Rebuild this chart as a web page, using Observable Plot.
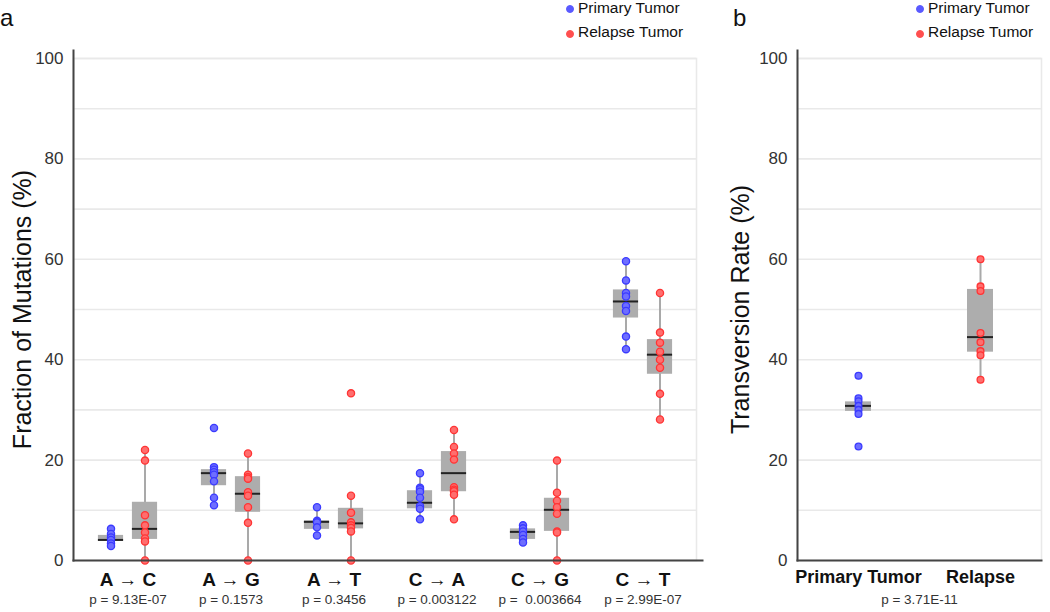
<!DOCTYPE html>
<html>
<head>
<meta charset="utf-8">
<script src="https://cdn.jsdelivr.net/npm/d3@7"></script>
<script src="https://cdn.jsdelivr.net/npm/@observablehq/plot@0.6"></script>
<style>
  html, body { margin: 0; padding: 0; background: #fff; }
  #wrap { position: relative; width: 1050px; height: 612px; overflow: hidden; font-family: "Liberation Sans", Arial, sans-serif; color: #111; }
  .abs { position: absolute; white-space: nowrap; }
  .panel-label { font-size: 24px; line-height: 24px; }
  .leg-text { font-size: 15.5px; line-height: 16px; color: #111; }
  .leg-dot { width: 6px; height: 6px; border-radius: 50%; }
</style>
</head>
<body>
<div id="wrap"></div>
<script>
// ---------- data ----------
const mutationTypes = ["A → C", "A → G", "A → T", "C → A", "C → G", "C → T"];
const pValuesA = ["p = 9.13E-07", "p = 0.1573", "p = 0.3456", "p = 0.003122", "p =  0.003664", "p = 2.99E-07"];
const tumorGroups = ["Primary Tumor", "Relapse Tumor"];
const panelBCategories = ["Primary Tumor", "Relapse"];
const pValueB = "p = 3.71E-11";
const yLabelA = "Fraction of Mutations (%)";
const yLabelB = "Transversion Rate (%)";
const yTicks = [0, 20, 40, 60, 80, 100];
const gridValues = [10, 20, 30, 40, 50, 60, 70, 80, 90, 100];

// individual samples, fraction of mutations (%) - primary tumors
const primaryAC = [6.3, 5.3, 4.6, 4.1, 3.4, 2.9];
const primaryAG = [26.4, 18.6, 18.1, 17.6, 17.1, 15.8, 12.5, 11.0];
const primaryAT = [10.6, 7.9, 7.6, 6.6, 5.0];
const primaryCA = [17.4, 14.5, 14.2, 13.7, 12.5, 10.8, 10.3, 8.2];
const primaryCG = [7.0, 6.4, 5.8, 5.1, 4.3, 3.6];
const primaryCT = [59.6, 55.8, 53.3, 52.6, 50.7, 49.7, 44.6, 42.1];
// relapse tumors
const relapseAC = [22.0, 19.9, 9.0, 7.0, 5.6, 4.4, 3.8, 0];
const relapseAG = [21.3, 17.1, 16.6, 16.3, 13.6, 12.9, 10.6, 7.5, 0];
const relapseAT = [33.3, 12.9, 9.5, 7.6, 7.0, 6.5, 5.8, 0];
const relapseCA = [26.0, 22.6, 21.3, 20.1, 14.6, 14.1, 13.8, 13.1, 8.2];
const relapseCG = [19.9, 13.5, 11.9, 10.6, 9.3, 5.8, 5.6, 0];
const relapseCT = [53.3, 45.4, 43.4, 41.6, 40.0, 38.4, 33.2, 28.1];

// box summaries (as drawn) per mutation type
const primaryQ1 = [3.8, 14.9, 6.2, 10.3, 4.2, 48.3];
const primaryMedian = [4.1, 17.4, 7.7, 11.5, 5.7, 51.6];
const primaryQ3 = [5.0, 18.1, 7.9, 13.9, 6.3, 53.9];
const primaryLow = [2.9, 11.0, 5.0, 8.2, 3.6, 42.1];
const primaryHigh = [6.3, 18.6, 10.6, 17.4, 7.0, 59.6];
const relapseQ1 = [4.2, 9.6, 6.3, 13.7, 5.8, 37.1];
const relapseMedian = [6.3, 13.3, 7.4, 17.4, 10.1, 41.0];
const relapseQ3 = [11.6, 16.7, 10.4, 21.7, 12.4, 44.0];
const relapseLow = [0, 0, 0, 8.2, 0, 28.1];
const relapseHigh = [22.0, 21.3, 12.9, 26.0, 19.9, 53.3];

// panel b: transversion rate (%)
const transversionPrimary = [36.8, 32.3, 31.7, 30.8, 30.0, 29.2, 22.7];
const transversionRelapse = [60.0, 54.6, 53.7, 45.3, 43.5, 41.7, 40.9, 36.0];
const transversionQ1 = [29.7, 41.5];
const transversionMedian = [30.8, 44.5];
const transversionQ3 = [31.6, 54.0];
const transversionLow = [29.2, 36.0];
const transversionHigh = [32.3, 60.0];

// ---------- build tables ----------
const primaryPoints = [primaryAC, primaryAG, primaryAT, primaryCA, primaryCG, primaryCT];
const relapsePoints = [relapseAC, relapseAG, relapseAT, relapseCA, relapseCG, relapseCT];
const ptsP = mutationTypes.flatMap((m, i) => primaryPoints[i].map(v => ({type: m, group: tumorGroups[0], value: v})));
const ptsR = mutationTypes.flatMap((m, i) => relapsePoints[i].map(v => ({type: m, group: tumorGroups[1], value: v})));
const boxP = mutationTypes.map((m, i) => ({type: m, q1: primaryQ1[i], med: primaryMedian[i], q3: primaryQ3[i], lo: primaryLow[i], hi: primaryHigh[i]}));
const boxR = mutationTypes.map((m, i) => ({type: m, q1: relapseQ1[i], med: relapseMedian[i], q3: relapseQ3[i], lo: relapseLow[i], hi: relapseHigh[i]}));
const labelsA = mutationTypes.map((m, i) => ({type: m, p: pValuesA[i]}));

const ptsB = [
  ...transversionPrimary.map(v => ({cat: panelBCategories[0], value: v})),
  ...transversionRelapse.map(v => ({cat: panelBCategories[1], value: v}))
];
const boxB = panelBCategories.map((c, i) => ({cat: c, q1: transversionQ1[i], med: transversionMedian[i], q3: transversionQ3[i], lo: transversionLow[i], hi: transversionHigh[i]}));

// ---------- styles ----------
const FONT = "Liberation Sans, Arial, sans-serif";
const BLUE_FILL = "#6e6eff", BLUE_STROKE = "#3a3aff";
const RED_FILL = "#ff6e6e", RED_STROKE = "#ff3434";
const GRID = "#e9e9e9", AXIS = "#444", BOX = "#adadad", WHISK = "#a9a9a9";

// ---------- panel a ----------
const off = 17;        // half distance between the two boxes of a pair
const bandA = 623 / 6; // band width
const boxW = 26;
const inNear = bandA / 2 - off - boxW / 2;
const inFar = bandA / 2 + off - boxW / 2;

const plotA = Plot.plot({
  width: 710, height: 612,
  marginLeft: 73, marginRight: 14, marginTop: 58, marginBottom: 52,
  style: {fontFamily: FONT, background: "transparent", overflow: "visible"},
  x: {type: "band", domain: mutationTypes, padding: 0, axis: null},
  y: {domain: [0, 100], axis: null},
  marks: [
    Plot.ruleY(gridValues, {stroke: GRID, strokeWidth: 1.6}),
    Plot.frame({stroke: GRID, strokeWidth: 1.6}),
    Plot.ruleX(boxP, {x: "type", y1: "lo", y2: "hi", dx: -off, stroke: WHISK, strokeWidth: 2}),
    Plot.ruleX(boxR, {x: "type", y1: "lo", y2: "hi", dx: off, stroke: WHISK, strokeWidth: 2}),
    Plot.barY(boxP, {x: "type", y1: "q1", y2: "q3", insetLeft: inNear, insetRight: inFar, fill: BOX}),
    Plot.barY(boxR, {x: "type", y1: "q1", y2: "q3", insetLeft: inFar, insetRight: inNear, fill: BOX}),
    Plot.tickY(boxP, {x: "type", y: "med", insetLeft: inNear, insetRight: inFar, stroke: "#222", strokeWidth: 2}),
    Plot.tickY(boxR, {x: "type", y: "med", insetLeft: inFar, insetRight: inNear, stroke: "#222", strokeWidth: 2}),
    Plot.dot(ptsP, {x: "type", y: "value", dx: -off, r: 3.6, fill: BLUE_FILL, stroke: BLUE_STROKE, strokeWidth: 1.3}),
    Plot.dot(ptsR, {x: "type", y: "value", dx: off, r: 3.6, fill: RED_FILL, stroke: RED_STROKE, strokeWidth: 1.3}),
    Plot.frame({anchor: "left", stroke: AXIS, strokeWidth: 2, insetTop: -8}),
    Plot.frame({anchor: "bottom", stroke: AXIS, strokeWidth: 2, insetRight: -6}),
    Plot.axisY({ticks: yTicks, tickSize: 0, tickPadding: 10, fontSize: 17, color: "#333", label: null}),
    Plot.text([yLabelA], {text: d => d, frameAnchor: "left", textAnchor: "middle", dx: -51, rotate: -90, fontSize: 25, fill: "#111"}),
    Plot.text(labelsA, {x: "type", text: "type", frameAnchor: "bottom", dy: 25, fontSize: 19, fontWeight: "bold", fill: "#111"}),
    Plot.text(labelsA, {x: "type", text: "p", frameAnchor: "bottom", dy: 43, fontSize: 13.5, fill: "#333"})
  ]
});

// ---------- panel b ----------
const bandB = 244 / 2;
const inB = bandB / 2 - boxW / 2;
const plotB = Plot.plot({
  width: 340, height: 612,
  marginLeft: 87, marginRight: 9, marginTop: 58, marginBottom: 52,
  style: {fontFamily: FONT, background: "transparent", overflow: "visible"},
  x: {type: "band", domain: panelBCategories, padding: 0, axis: null},
  y: {domain: [0, 100], axis: null},
  marks: [
    Plot.ruleY(gridValues, {stroke: GRID, strokeWidth: 1.6}),
    Plot.frame({stroke: GRID, strokeWidth: 1.6}),
    Plot.ruleX(boxB, {x: "cat", y1: "lo", y2: "hi", stroke: WHISK, strokeWidth: 2}),
    Plot.barY(boxB, {x: "cat", y1: "q1", y2: "q3", insetLeft: inB, insetRight: inB, fill: BOX}),
    Plot.tickY(boxB, {x: "cat", y: "med", insetLeft: inB, insetRight: inB, stroke: "#222", strokeWidth: 2}),
    Plot.dot(ptsB, {x: "cat", y: "value", r: 3.4,
      fill: d => d.cat === panelBCategories[0] ? BLUE_FILL : RED_FILL,
      stroke: d => d.cat === panelBCategories[0] ? BLUE_STROKE : RED_STROKE, strokeWidth: 1.3}),
    Plot.frame({anchor: "left", stroke: AXIS, strokeWidth: 2, insetTop: -8}),
    Plot.frame({anchor: "bottom", stroke: AXIS, strokeWidth: 2}),
    Plot.axisY({ticks: yTicks, tickSize: 0, tickPadding: 10, fontSize: 17, color: "#333", label: null}),
    Plot.text([yLabelB], {text: d => d, frameAnchor: "left", textAnchor: "middle", dx: -57, rotate: -90, fontSize: 25, fill: "#111"}),
    Plot.text(panelBCategories, {x: d => d, text: d => d, frameAnchor: "bottom", dy: 22, fontSize: 18, fontWeight: "bold", fill: "#111"}),
    Plot.text([pValueB], {text: d => d, frameAnchor: "bottom", dy: 43, fontSize: 13.5, fill: "#333"})
  ]
});

// ---------- assemble ----------
const wrap = document.getElementById("wrap");
function place(el, left, top) { el.style.position = "absolute"; el.style.left = left + "px"; el.style.top = top + "px"; wrap.appendChild(el); return el; }
place(plotA, 0, 0);
place(plotB, 710, 0);

function addText(cls, text, left, top) {
  const d = document.createElement("div");
  d.className = "abs " + cls; d.textContent = text;
  return place(d, left, top);
}
function addDot(color, left, top) {
  const d = document.createElement("div");
  d.className = "abs leg-dot"; d.style.background = color; d.style.border = "0.5px solid " + color;
  return place(d, left, top);
}
addText("panel-label", "a", 0, 6);
addText("panel-label", "b", 733, 6);
const legendSpots = [[566, 578], [916, 928]];
for (const [dx, tx] of legendSpots) {
  addDot("#5a5aff", dx, 5);
  addText("leg-text", tumorGroups[0], tx, 0);
  addDot("#ff4f4f", dx, 30);
  addText("leg-text", tumorGroups[1], tx, 24);
}
</script>
</body>
</html>
